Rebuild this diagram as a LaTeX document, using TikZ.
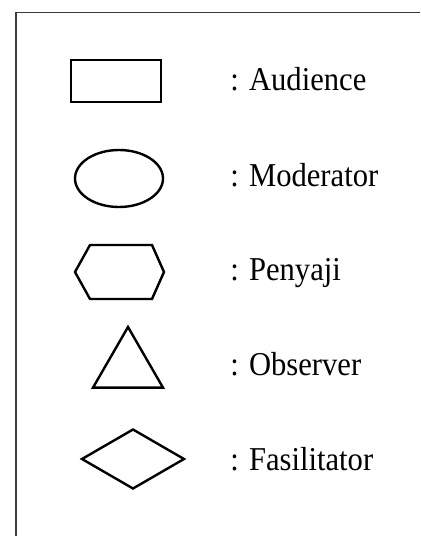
\documentclass[tikz,border=0pt]{standalone}
\usepackage{fontspec}
\setmainfont{Liberation Serif}
\usetikzlibrary{shapes.geometric}
\definecolor{framegray}{RGB}{60,60,60}

\tikzset{
    legendshape/.style={draw=black, line width=1.2pt, inner sep=0pt},
    legendtext/.style={anchor=base west, inner sep=0pt, font=\fontsize{15.3}{18}\selectfont}
}
\newcommand{\legendlabel}[1]{\scalebox{1}[1.09]{#1}}

\begin{document}
\begin{tikzpicture}[x=0.5pt, y=-0.5pt]
    \useasboundingbox (0,0) rectangle (420,536);
    % Frame
    \draw[framegray, line width=0.6pt] (16,536) -- (16,12.5) -- (420,12.5);

    % Audience
    \node[legendshape, rectangle, minimum width=45pt, minimum height=21pt] (audience) at (116,81) {};
    \node[legendtext] (audiencetext) at (230,90) {\legendlabel{: Audience}};

    % Moderator
    \node[legendshape, ellipse, minimum width=44pt, minimum height=28.5pt] (moderator) at (119,178.5) {};
    \node[legendtext] (moderatortext) at (230,186) {\legendlabel{: Moderator}};

    % Penyaji
    \draw[black, line width=1.2pt, line join=miter]
        (90,245) -- (152,245) -- (164,272) -- (152,299) -- (90,299) -- (75,272) -- cycle;
    \node[legendtext] (penyajitext) at (230,280) {\legendlabel{: Penyaji}};

    % Observer
    \node[legendshape, regular polygon, regular polygon sides=3, minimum size=40.4pt] (observer) at (128,367.4) {};
    \node[legendtext] (observertext) at (230,375) {\legendlabel{: Observer}};

    % Fasilitator
    \node[legendshape, diamond, minimum width=51.5pt, minimum height=30pt] (fasilitator) at (133,459) {};
    \node[legendtext] (fasilitatortext) at (230,470) {\legendlabel{: Fasilitator}};
\end{tikzpicture}
\end{document}
